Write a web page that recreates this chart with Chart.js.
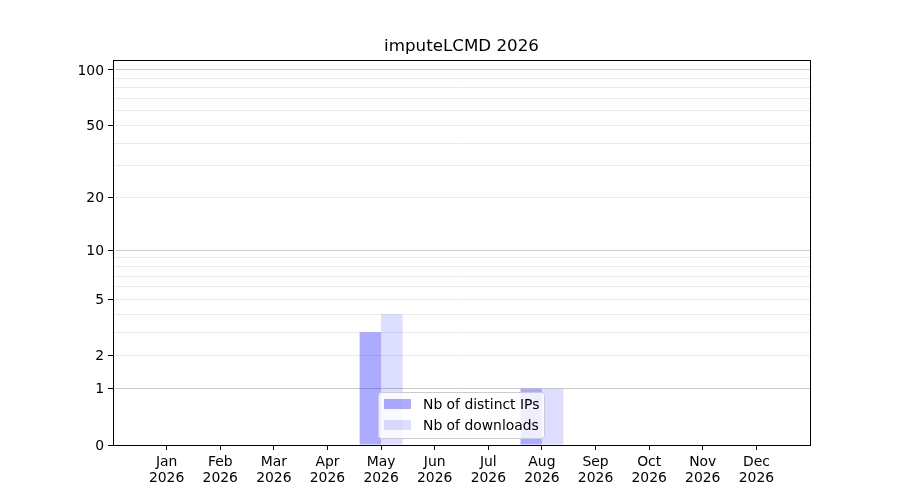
<!DOCTYPE html>
<html>
<head>
<meta charset="utf-8">
<script src="https://cdn.jsdelivr.net/npm/chart.js@4.4.1/dist/chart.umd.min.js"></script>
<style>
  html, body { margin: 0; background: #fff; }
</style>
</head>
<body>
<canvas id="chart" width="900" height="500"></canvas>
<script>
/* ── Data ── */
const title       = 'imputeLCMD 2026';
const months      = ['Jan', 'Feb', 'Mar', 'Apr', 'May', 'Jun', 'Jul', 'Aug', 'Sep', 'Oct', 'Nov', 'Dec'];
const year        = '2026';
const distinctIPs = [0, 0, 0, 0, 3, 0, 0, 1, 0, 0, 0, 0];
const downloads   = [0, 0, 0, 0, 4, 0, 0, 1, 0, 0, 0, 0];
const seriesNames = ['Nb of distinct IPs', 'Nb of downloads'];
const yLabelled   = [0, 1, 2, 5, 10, 20, 50, 100];
const yMinor      = [3, 4, 6, 7, 8, 9, 30, 40, 60, 70, 80, 90];
const yDecades    = [1, 10, 100];
const yMax        = 113.2;

/* ── Helpers ── */
const FONT = 'DejaVu Sans';
const tf = v => Math.log10(1 + v);              // log(1+x) axis
const colors = ['rgba(0,0,255,0.33)', 'rgba(0,0,255,0.135)'];

const yTicks = [...yLabelled, ...yMinor].sort((a, b) => a - b)
    .map(v => ({ raw: v, value: tf(v), label: yLabelled.includes(v) ? String(v) : '' }));

const toPoints = arr => arr.map((v, i) => ({ x: i, y: tf(v) }));

/* ── Plugins: frame, title, legend inside axes ── */
const framePlugin = {
    id: 'frame',
    afterDatasetsDraw(chart) {
        const { ctx, chartArea: a } = chart;
        ctx.save();
        ctx.strokeStyle = '#000';
        ctx.lineWidth = 1;
        ctx.strokeRect(a.left + 0.5, a.top + 0.5, a.right - a.left, a.bottom - a.top);
        // title
        ctx.fillStyle = '#000';
        ctx.font = `16.7px "${FONT}"`;
        ctx.textAlign = 'center';
        ctx.textBaseline = 'alphabetic';
        ctx.fillText(title, (a.left + a.right) / 2, 51);
        ctx.restore();
    },
};

const legendPlugin = {
    id: 'innerLegend',
    afterDraw(chart) {
        const { ctx, chartArea: a } = chart;
        const x = a.left + 265, y = a.bottom - 53, w = 166, h = 46;
        ctx.save();
        ctx.beginPath();
        ctx.roundRect(x + 0.5, y + 0.5, w, h, 3);
        ctx.fillStyle = 'rgba(255,255,255,0.8)';
        ctx.fill();
        ctx.strokeStyle = '#cccccc';
        ctx.lineWidth = 1;
        ctx.stroke();
        ctx.font = `13.9px "${FONT}"`;
        ctx.textBaseline = 'middle';
        seriesNames.forEach((name, i) => {
            const cy = y + 12 + i * 21;
            ctx.fillStyle = colors[i];
            ctx.fillRect(x + 6, cy - 5, 27, 10);
            ctx.fillStyle = '#000';
            ctx.fillText(name, x + 45, cy + 1);
        });
        ctx.restore();
    },
};

/* ── Chart ── */
new Chart(document.getElementById('chart'), {
    type: 'bar',
    data: {
        datasets: [
            { label: seriesNames[0], data: toPoints(distinctIPs), backgroundColor: colors[0] },
            { label: seriesNames[1], data: toPoints(downloads),   backgroundColor: colors[1] },
        ],
    },
    options: {
        responsive: false,
        animation: false,
        layout: { padding: { top: 60, right: 90, left: 0, bottom: 0 } },
        datasets: { bar: { categoryPercentage: 0.8, barPercentage: 1.0, borderWidth: 0 } },
        plugins: {
            legend: { display: false },
            title: { display: false },
            tooltip: { enabled: false },
        },
        scales: {
            x: {
                type: 'linear',
                min: -1, max: 12,
                offset: false,
                grid: { offset: false, drawOnChartArea: false, drawTicks: true, tickLength: 5, tickColor: '#000' },
                border: { display: false },
                afterBuildTicks: s => { s.ticks = months.map((m, i) => ({ value: i })); },
                afterFit: s => { s.height = 55; },
                ticks: {
                    autoSkip: false, maxRotation: 0, padding: 4,
                    color: '#000', font: { family: FONT, size: 13.9, lineHeight: 1.15 },
                    callback: v => [months[v], year],
                },
            },
            y: {
                type: 'linear',
                min: 0, max: tf(yMax),
                grid: {
                    tickLength: 5,
                    color: c => {
                        const t = yTicks[c.index];
                        if (!t || t.raw === 0) return 'rgba(0,0,0,0)';
                        return yDecades.includes(t.raw) ? '#cccccc' : '#ebebeb';
                    },
                    tickColor: c => (yTicks[c.index] && yTicks[c.index].label ? '#000' : 'rgba(0,0,0,0)'),
                },
                border: { display: false },
                afterBuildTicks: s => { s.ticks = yTicks.map(t => ({ value: t.value })); },
                afterFit: s => { s.width = 113; },
                ticks: {
                    autoSkip: false, padding: 4, labelOffset: 1,
                    color: '#000', font: { family: FONT, size: 13.9 },
                    callback: (v, i) => yTicks[i].label,
                },
            },
        },
    },
    plugins: [framePlugin, legendPlugin],
});
</script>
</body>
</html>
